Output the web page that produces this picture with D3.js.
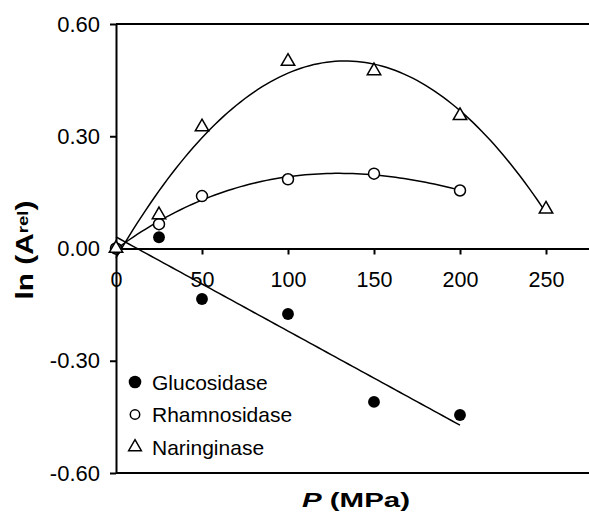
<!DOCTYPE html>
<html>
<head>
<meta charset="UTF-8">
<title>ln(Arel) vs P</title>
<script src="https://d3js.org/d3.v7.min.js"></script>
<style>
body { margin: 0; background: #fff; }
svg text { font-family: "Liberation Sans", Arial, sans-serif; fill: #000; }
.axis path, .axis line { stroke: #000; stroke-width: 2; }
.fit { fill: none; stroke: #000; stroke-width: 1.5; }
</style>
</head>
<body>
<script>
// values
var pressure = [0, 25, 50, 100, 150, 200];
var pressureNar = [0, 25, 50, 100, 150, 200, 250];
var glucosidase = [0, 0.03, -0.135, -0.175, -0.41, -0.445];
var rhamnosidase = [0, 0.065, 0.14, 0.185, 0.2, 0.155];
var naringinase = [0, 0.09, 0.325, 0.5, 0.475, 0.355, 0.105];
var xTicks = [0, 50, 100, 150, 200, 250];
var yTicks = [-0.6, -0.3, 0, 0.3, 0.6];
var seriesNames = ["Glucosidase", "Rhamnosidase", "Naringinase"];

var W = 589, H = 521;
var x = d3.scaleLinear().domain([0, 275]).range([116, 589]);
var y = d3.scaleLinear().domain([-0.6, 0.6]).range([473, 24]);

var svg = d3.select("body").append("svg").attr("width", W).attr("height", H);

// least squares polynomial (regression curves of the original)
function polyfit(xs, ys, deg) {
    var n = deg + 1, A = [], b = [];
    for (var i = 0; i < n; i++) {
        A.push([]);
        b.push(0);
        for (var j = 0; j < n; j++) {
            A[i].push(d3.sum(xs, function (v) { return Math.pow(v / 100, i + j); }));
        }
        for (var k = 0; k < xs.length; k++) b[i] += ys[k] * Math.pow(xs[k] / 100, i);
    }
    for (var c = 0; c < n; c++) {
        var p = c;
        for (var r = c + 1; r < n; r++) if (Math.abs(A[r][c]) > Math.abs(A[p][c])) p = r;
        var t = A[c]; A[c] = A[p]; A[p] = t;
        var tb = b[c]; b[c] = b[p]; b[p] = tb;
        for (var r2 = c + 1; r2 < n; r2++) {
            var f = A[r2][c] / A[c][c];
            for (var cc = c; cc < n; cc++) A[r2][cc] -= f * A[c][cc];
            b[r2] -= f * b[c];
        }
    }
    var coef = new Array(n).fill(0);
    for (var r3 = n - 1; r3 >= 0; r3--) {
        var s = b[r3];
        for (var c2 = r3 + 1; c2 < n; c2++) s -= A[r3][c2] * coef[c2];
        coef[r3] = s / A[r3][r3];
    }
    return function (v) {
        var out = 0;
        for (var i2 = 0; i2 < n; i2++) out += coef[i2] * Math.pow(v / 100, i2);
        return out;
    };
}

// axes
var xAxis = svg.append("g").attr("class", "axis")
    .attr("transform", "translate(0," + y(0) + ")")
    .call(d3.axisBottom(x).tickValues(xTicks).tickSize(6).tickSizeOuter(0).tickPadding(17));
xAxis.selectAll("text").attr("font-size", 21.5).attr("font-family", null);
var yAxis = svg.append("g").attr("class", "axis")
    .attr("transform", "translate(" + x(0) + ",0)")
    .call(d3.axisLeft(y).tickValues(yTicks).tickSize(6).tickSizeOuter(0).tickPadding(10)
        .tickFormat(function (d) { return d.toFixed(2); }));
yAxis.selectAll("text").attr("font-size", 22).attr("font-family", null);

// frame top and bottom
svg.append("line").attr("x1", x(0)).attr("x2", x(275)).attr("y1", y(0.6)).attr("y2", y(0.6))
    .attr("stroke", "#000").attr("stroke-width", 2);
svg.append("line").attr("x1", x(0)).attr("x2", x(275)).attr("y1", y(-0.6)).attr("y2", y(-0.6))
    .attr("stroke", "#000").attr("stroke-width", 2);

// fits
var line = d3.line().x(function (d) { return x(d[0]); }).y(function (d) { return y(d[1]); });
var fits = [
    {xs: pressure, ys: glucosidase, deg: 1, end: 200},
    {xs: pressure, ys: rhamnosidase, deg: 3, end: 200},
    {xs: pressureNar, ys: naringinase, deg: 2, end: 250}
];
fits.forEach(function (f) {
    var fn = polyfit(f.xs, f.ys, f.deg);
    var pts = d3.range(0, f.end + 0.01, 2.5).map(function (v) { return [v, fn(v)]; });
    svg.append("path").attr("class", "fit").attr("d", line(pts));
});

// markers
var circleSym = d3.symbol().type(d3.symbolCircle).size(110);
var triSym = d3.symbol().type(d3.symbolTriangle).size(78);

svg.selectAll(".gluc").data(glucosidase).enter().append("path")
    .attr("d", circleSym)
    .attr("transform", function (d, i) { return "translate(" + x(pressure[i]) + "," + y(d) + ")"; })
    .attr("fill", "#000");
svg.selectAll(".rham").data(rhamnosidase).enter().append("path")
    .attr("d", d3.symbol().type(d3.symbolCircle).size(95))
    .attr("transform", function (d, i) { return "translate(" + x(pressure[i]) + "," + y(d) + ")"; })
    .attr("fill", "#fff").attr("stroke", "#000").attr("stroke-width", 1.5);
svg.selectAll(".nar").data(naringinase).enter().append("path")
    .attr("d", triSym)
    .attr("transform", function (d, i) { return "translate(" + x(pressureNar[i]) + "," + y(d) + ")"; })
    .attr("fill", "#fff").attr("stroke", "#000").attr("stroke-width", 1.5);

// legend
var legend = svg.append("g").attr("transform", "translate(135,382)");
var legSyms = [
    d3.symbol().type(d3.symbolCircle).size(125)(),
    d3.symbol().type(d3.symbolCircle).size(70)(),
    d3.symbol().type(d3.symbolTriangle).size(70)()
];
seriesNames.forEach(function (name, i) {
    var row = legend.append("g").attr("transform", "translate(0," + (i * 32.5) + ")");
    row.append("path").attr("d", legSyms[i])
        .attr("fill", i == 0 ? "#000" : "#fff")
        .attr("stroke", "#000").attr("stroke-width", i == 0 ? 0 : 1.5);
    row.append("text").attr("x", 17).attr("y", 7.5).attr("font-size", 21).text(name);
});

// axis titles
var yTitle = svg.append("text")
    .attr("transform", "translate(33,250) rotate(-90)")
    .attr("text-anchor", "middle").attr("font-weight", "bold").attr("font-size", 24)
    .attr("textLength", 99).attr("lengthAdjust", "spacingAndGlyphs");
yTitle.append("tspan").text("ln (A");
yTitle.append("tspan").attr("font-size", 15).attr("dy", -5).text("rel");
yTitle.append("tspan").attr("dy", 5).text(")");

var xTitle = svg.append("text")
    .attr("x", 356).attr("y", 507)
    .attr("text-anchor", "middle").attr("font-weight", "bold").attr("font-size", 21)
    .attr("textLength", 108).attr("lengthAdjust", "spacingAndGlyphs");
xTitle.append("tspan").attr("font-style", "italic").text("P");
xTitle.append("tspan").text(" (MPa)");
</script>
</body>
</html>
